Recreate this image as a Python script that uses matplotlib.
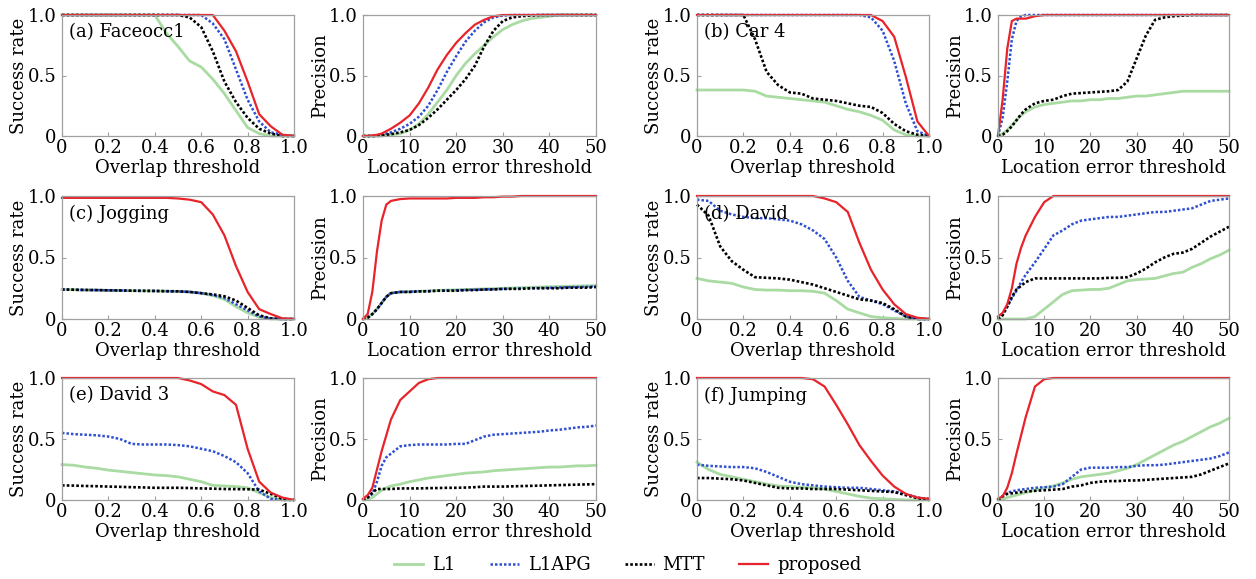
import matplotlib
matplotlib.use("Agg")
import matplotlib.pyplot as plt

plt.rcParams["font.family"] = ["DejaVu Serif"]

# shared threshold grids
overlap_x = [0, 0.05, 0.1, 0.15, 0.2, 0.25, 0.3, 0.35, 0.4, 0.45, 0.5,
             0.55, 0.6, 0.65, 0.7, 0.75, 0.8, 0.85, 0.9, 0.95, 1.0]
error_x = [0, 1, 2, 3, 4, 5, 6, 8, 10, 12, 14, 16, 18, 20, 22, 24, 26, 28,
           30, 32, 34, 36, 38, 40, 42, 44, 46, 48, 50]

methods = ["L1", "L1APG", "MTT", "proposed"]

# (a) Faceocc1
faceocc_succ_l1 = [1, 1, 1, 1, 1, 1, 1, 1, 1, 0.85, 0.74, 0.62, 0.57, 0.47, 0.35, 0.21, 0.07, 0.02, 0, 0, 0]
faceocc_succ_apg = [1, 1, 1, 1, 1, 1, 1, 1, 1, 1, 1, 1, 1, 0.93, 0.8, 0.55, 0.3, 0.12, 0.03, 0.01, 0]
faceocc_succ_mtt = [1, 1, 1, 1, 1, 1, 1, 1, 1, 1, 1, 0.98, 0.9, 0.7, 0.45, 0.28, 0.15, 0.06, 0.02, 0, 0]
faceocc_succ_prop = [1, 1, 1, 1, 1, 1, 1, 1, 1, 1, 1, 1, 1, 1, 0.87, 0.7, 0.45, 0.18, 0.08, 0.01, 0]
faceocc_prec_l1 = [0, 0, 0, 0, 0, 0.005, 0.01, 0.02, 0.05, 0.1, 0.18, 0.28, 0.38, 0.5, 0.6, 0.68, 0.75,
                   0.82, 0.88, 0.92, 0.95, 0.97, 0.98, 0.99, 1, 1, 1, 1, 1]
faceocc_prec_apg = [0, 0, 0, 0.005, 0.01, 0.02, 0.03, 0.06, 0.1, 0.16, 0.25, 0.38, 0.53, 0.66, 0.78, 0.87,
                    0.94, 0.98, 0.995, 1, 1, 1, 1, 1, 1, 1, 1, 1, 1]
faceocc_prec_mtt = [0, 0, 0, 0, 0.005, 0.01, 0.015, 0.03, 0.05, 0.09, 0.15, 0.22, 0.3, 0.38, 0.47, 0.58,
                    0.74, 0.87, 0.95, 0.98, 0.99, 0.995, 1, 1, 1, 1, 1, 1, 1]
faceocc_prec_prop = [0, 0, 0.005, 0.01, 0.02, 0.04, 0.06, 0.11, 0.17, 0.27, 0.4, 0.55, 0.67, 0.77, 0.85,
                     0.92, 0.96, 0.99, 1, 1, 1, 1, 1, 1, 1, 1, 1, 1, 1]

# (b) Car 4
car4_succ_l1 = [0.38, 0.38, 0.38, 0.38, 0.38, 0.37, 0.33, 0.32, 0.31, 0.3, 0.29, 0.28, 0.25, 0.22, 0.2,
                0.17, 0.13, 0.05, 0.01, 0, 0]
car4_succ_apg = [1, 1, 1, 1, 1, 1, 1, 1, 1, 1, 1, 1, 1, 1, 1, 0.98, 0.87, 0.62, 0.27, 0.04, 0]
car4_succ_mtt = [1, 1, 1, 1, 1, 0.8, 0.53, 0.42, 0.36, 0.35, 0.31, 0.3, 0.29, 0.27, 0.25, 0.24, 0.19,
                 0.1, 0.04, 0.01, 0]
car4_succ_prop = [1, 1, 1, 1, 1, 1, 1, 1, 1, 1, 1, 1, 1, 1, 1, 1, 0.95, 0.82, 0.49, 0.12, 0]
car4_prec_l1 = [0, 0.02, 0.05, 0.09, 0.13, 0.17, 0.2, 0.24, 0.26, 0.27, 0.28, 0.29, 0.29, 0.3, 0.3, 0.31,
                0.31, 0.32, 0.33, 0.33, 0.34, 0.35, 0.36, 0.37, 0.37, 0.37, 0.37, 0.37, 0.37]
car4_prec_apg = [0, 0.15, 0.45, 0.8, 0.95, 0.99, 1, 1, 1, 1, 1, 1, 1, 1, 1, 1, 1, 1, 1, 1, 1, 1, 1, 1,
                 1, 1, 1, 1, 1]
car4_prec_mtt = [0, 0.01, 0.04, 0.08, 0.13, 0.18, 0.22, 0.27, 0.29, 0.3, 0.33, 0.35, 0.355, 0.36, 0.365,
                 0.37, 0.38, 0.45, 0.64, 0.83, 0.96, 0.98, 0.99, 0.995, 1, 1, 1, 1, 1]
car4_prec_prop = [0, 0.3, 0.72, 0.95, 0.97, 0.97, 0.97, 0.99, 1, 1, 1, 1, 1, 1, 1, 1, 1, 1, 1, 1, 1, 1,
                  1, 1, 1, 1, 1, 1, 1]

# (c) Jogging
jog_succ_l1 = [0.24, 0.238, 0.236, 0.235, 0.233, 0.232, 0.23, 0.229, 0.228, 0.226, 0.224, 0.22, 0.21,
               0.19, 0.16, 0.1, 0.05, 0.015, 0, 0, 0]
jog_succ_apg = [0.24, 0.238, 0.236, 0.235, 0.233, 0.232, 0.23, 0.229, 0.228, 0.226, 0.224, 0.22, 0.21,
                0.195, 0.17, 0.12, 0.07, 0.02, 0.003, 0, 0]
jog_succ_mtt = [0.24, 0.238, 0.236, 0.235, 0.233, 0.232, 0.23, 0.229, 0.228, 0.226, 0.225, 0.22, 0.21,
                0.2, 0.185, 0.15, 0.09, 0.03, 0.005, 0, 0]
jog_succ_prop = [0.985, 0.985, 0.985, 0.985, 0.985, 0.985, 0.985, 0.985, 0.985, 0.985, 0.98, 0.97, 0.95,
                 0.85, 0.68, 0.43, 0.22, 0.08, 0.04, 0.005, 0]
jog_prec_l1 = [0, 0.01, 0.04, 0.08, 0.13, 0.18, 0.21, 0.22, 0.22, 0.225, 0.228, 0.232, 0.235, 0.237,
               0.24, 0.242, 0.245, 0.247, 0.25, 0.252, 0.255, 0.257, 0.26, 0.262, 0.264, 0.266, 0.268, 0.27, 0.272]
jog_prec_apg = [0, 0.01, 0.04, 0.08, 0.13, 0.18, 0.21, 0.22, 0.222, 0.225, 0.227, 0.23, 0.232, 0.234,
                0.236, 0.238, 0.24, 0.242, 0.244, 0.246, 0.248, 0.25, 0.252, 0.254, 0.256, 0.258, 0.26, 0.262, 0.265]
jog_prec_mtt = [0, 0.01, 0.04, 0.08, 0.13, 0.18, 0.21, 0.22, 0.22, 0.225, 0.225, 0.23, 0.23, 0.23, 0.235,
                0.235, 0.24, 0.24, 0.245, 0.245, 0.245, 0.25, 0.25, 0.25, 0.25, 0.255, 0.255, 0.255, 0.26]
jog_prec_prop = [0, 0.04, 0.22, 0.55, 0.8, 0.93, 0.96, 0.975, 0.98, 0.98, 0.98, 0.98, 0.98, 0.985, 0.985,
                 0.985, 0.99, 0.99, 0.995, 0.995, 1, 1, 1, 1, 1, 1, 1, 1, 1]

# (d) David
david_succ_l1 = [0.33, 0.31, 0.3, 0.29, 0.26, 0.24, 0.235, 0.235, 0.23, 0.23, 0.225, 0.21, 0.15, 0.08,
                 0.05, 0.02, 0.01, 0.005, 0, 0, 0]
david_succ_apg = [0.97, 0.96, 0.88, 0.85, 0.83, 0.82, 0.82, 0.81, 0.8, 0.77, 0.72, 0.65, 0.5, 0.31, 0.18,
                  0.15, 0.12, 0.07, 0.02, 0, 0]
david_succ_mtt = [0.93, 0.84, 0.59, 0.47, 0.4, 0.34, 0.335, 0.33, 0.32, 0.3, 0.28, 0.25, 0.22, 0.19, 0.16,
                  0.15, 0.13, 0.08, 0.02, 0, 0]
david_succ_prop = [1, 1, 1, 1, 1, 1, 1, 1, 1, 1, 1, 0.98, 0.95, 0.87, 0.62, 0.4, 0.24, 0.12, 0.04, 0.01, 0]
david_prec_l1 = [0, 0, 0, 0, 0, 0, 0, 0.02, 0.08, 0.14, 0.2, 0.23, 0.235, 0.24, 0.24, 0.25, 0.28, 0.31,
                 0.32, 0.325, 0.33, 0.35, 0.37, 0.38, 0.42, 0.45, 0.49, 0.52, 0.56]
david_prec_apg = [0, 0.04, 0.1, 0.17, 0.23, 0.3, 0.36, 0.46, 0.57, 0.68, 0.72, 0.77, 0.8, 0.81, 0.82,
                  0.83, 0.83, 0.84, 0.85, 0.86, 0.87, 0.87, 0.88, 0.89, 0.9, 0.93, 0.96, 0.97, 0.98]
david_prec_mtt = [0, 0.03, 0.1, 0.18, 0.24, 0.27, 0.3, 0.33, 0.33, 0.33, 0.33, 0.33, 0.33, 0.33, 0.33,
                  0.335, 0.335, 0.34, 0.37, 0.41, 0.46, 0.5, 0.53, 0.54, 0.57, 0.62, 0.67, 0.71, 0.75]
david_prec_prop = [0.02, 0.05, 0.12, 0.25, 0.45, 0.58, 0.68, 0.83, 0.95, 1, 1, 1, 1, 1, 1, 1, 1, 1, 1, 1,
                   1, 1, 1, 1, 1, 1, 1, 1, 1]

# (e) David 3
david3_succ_l1 = [0.29, 0.285, 0.27, 0.26, 0.245, 0.235, 0.225, 0.215, 0.205, 0.2, 0.19, 0.17, 0.15, 0.12,
                  0.115, 0.11, 0.1, 0.06, 0.02, 0, 0]
david3_succ_apg = [0.55, 0.54, 0.535, 0.53, 0.52, 0.5, 0.46, 0.455, 0.455, 0.455, 0.45, 0.44, 0.42, 0.4,
                   0.36, 0.31, 0.22, 0.07, 0.01, 0, 0]
david3_succ_mtt = [0.12, 0.118, 0.115, 0.113, 0.11, 0.108, 0.105, 0.103, 0.1, 0.1, 0.1, 0.098, 0.095,
                   0.093, 0.09, 0.089, 0.088, 0.085, 0.05, 0.01, 0]
david3_succ_prop = [1, 1, 1, 1, 1, 1, 1, 1, 1, 1, 1, 0.98, 0.95, 0.89, 0.86, 0.78, 0.42, 0.15, 0.06, 0.02, 0]
david3_prec_l1 = [0, 0.005, 0.02, 0.05, 0.08, 0.1, 0.115, 0.13, 0.15, 0.165, 0.18, 0.19, 0.2, 0.21, 0.22,
                  0.225, 0.23, 0.24, 0.245, 0.25, 0.255, 0.26, 0.265, 0.27, 0.27, 0.275, 0.28, 0.28, 0.285]
david3_prec_apg = [0, 0.02, 0.05, 0.15, 0.28, 0.35, 0.38, 0.44, 0.45, 0.455, 0.455, 0.455, 0.455, 0.46,
                   0.46, 0.49, 0.52, 0.535, 0.54, 0.545, 0.55, 0.555, 0.56, 0.57, 0.575, 0.585, 0.595, 0.6, 0.61]
david3_prec_mtt = [0, 0.02, 0.06, 0.09, 0.09, 0.09, 0.09, 0.095, 0.095, 0.095, 0.097, 0.098, 0.1, 0.1,
                   0.102, 0.105, 0.11, 0.11, 0.11, 0.112, 0.114, 0.116, 0.118, 0.12, 0.122, 0.124, 0.126, 0.128, 0.13]
david3_prec_prop = [0.01, 0.04, 0.1, 0.25, 0.4, 0.53, 0.66, 0.82, 0.89, 0.96, 0.99, 1, 1, 1, 1, 1, 1, 1,
                    1, 1, 1, 1, 1, 1, 1, 1, 1, 1, 1]

# (f) Jumping
jump_succ_l1 = [0.31, 0.25, 0.21, 0.19, 0.17, 0.15, 0.13, 0.115, 0.11, 0.105, 0.1, 0.09, 0.07, 0.05, 0.03,
                0.015, 0.01, 0.005, 0, 0, 0]
jump_succ_apg = [0.29, 0.28, 0.275, 0.27, 0.27, 0.26, 0.23, 0.19, 0.15, 0.13, 0.12, 0.11, 0.105, 0.1, 0.1,
                 0.09, 0.08, 0.07, 0.05, 0.02, 0.01]
jump_succ_mtt = [0.18, 0.18, 0.175, 0.17, 0.16, 0.14, 0.12, 0.1, 0.095, 0.095, 0.09, 0.09, 0.09, 0.085,
                 0.08, 0.075, 0.07, 0.065, 0.04, 0.015, 0]
jump_succ_prop = [1, 1, 1, 1, 1, 1, 1, 1, 1, 1, 0.99, 0.93, 0.78, 0.62, 0.45, 0.32, 0.2, 0.11, 0.05, 0.02, 0.01]
jump_prec_l1 = [0, 0.005, 0.02, 0.03, 0.04, 0.05, 0.06, 0.08, 0.1, 0.115, 0.14, 0.17, 0.19, 0.2, 0.21,
                0.22, 0.24, 0.26, 0.29, 0.33, 0.37, 0.41, 0.45, 0.48, 0.52, 0.56, 0.6, 0.63, 0.67]
jump_prec_apg = [0, 0.03, 0.06, 0.07, 0.08, 0.085, 0.09, 0.1, 0.105, 0.11, 0.13, 0.19, 0.25, 0.265, 0.265,
                 0.265, 0.27, 0.27, 0.28, 0.285, 0.285, 0.29, 0.3, 0.31, 0.32, 0.33, 0.34, 0.36, 0.39]
jump_prec_mtt = [0, 0.03, 0.05, 0.055, 0.06, 0.065, 0.07, 0.075, 0.08, 0.085, 0.09, 0.11, 0.12, 0.14, 0.15,
                 0.155, 0.155, 0.16, 0.16, 0.165, 0.17, 0.175, 0.18, 0.185, 0.19, 0.21, 0.24, 0.27, 0.3]
jump_prec_prop = [0.01, 0.03, 0.1, 0.22, 0.38, 0.53, 0.68, 0.93, 0.99, 1, 1, 1, 1, 1, 1, 1, 1, 1, 1, 1,
                  1, 1, 1, 1, 1, 1, 1, 1, 1]

titles = ["(a) Faceocc1", "(b) Car 4", "(c) Jogging", "(d) David", "(e) David 3", "(f) Jumping"]

succ_sets = [
    [faceocc_succ_l1, faceocc_succ_apg, faceocc_succ_mtt, faceocc_succ_prop],
    [car4_succ_l1, car4_succ_apg, car4_succ_mtt, car4_succ_prop],
    [jog_succ_l1, jog_succ_apg, jog_succ_mtt, jog_succ_prop],
    [david_succ_l1, david_succ_apg, david_succ_mtt, david_succ_prop],
    [david3_succ_l1, david3_succ_apg, david3_succ_mtt, david3_succ_prop],
    [jump_succ_l1, jump_succ_apg, jump_succ_mtt, jump_succ_prop],
]
prec_sets = [
    [faceocc_prec_l1, faceocc_prec_apg, faceocc_prec_mtt, faceocc_prec_prop],
    [car4_prec_l1, car4_prec_apg, car4_prec_mtt, car4_prec_prop],
    [jog_prec_l1, jog_prec_apg, jog_prec_mtt, jog_prec_prop],
    [david_prec_l1, david_prec_apg, david_prec_mtt, david_prec_prop],
    [david3_prec_l1, david3_prec_apg, david3_prec_mtt, david3_prec_prop],
    [jump_prec_l1, jump_prec_apg, jump_prec_mtt, jump_prec_prop],
]

styles = [
    dict(color="#a9dba3", lw=2.0, ls="-"),
    dict(color="#2f4fd1", lw=1.8, ls=(0, (1, 0.8))),
    dict(color="black", lw=1.9, ls=(0, (1, 0.8))),
    dict(color="#e8232a", lw=1.6, ls="-"),
]

W, H = 1256, 579
fig = plt.figure(figsize=(W / 100, H / 100), dpi=100)

col_px = [(62, 294), (363, 596), (697, 929), (998, 1229)]
row_px = [(15, 136), (196, 319), (378, 500)]
FS = 13


def make_ax(col, row):
    x0, x1 = col_px[col]
    y0, y1 = row_px[row]
    ax = fig.add_axes([x0 / W, 1 - y1 / H, (x1 - x0) / W, (y1 - y0) / H])
    for s in ax.spines.values():
        s.set_color("#a0a0a0")
        s.set_linewidth(0.9)
    ax.tick_params(direction="in", length=3, color="#a0a0a0", labelsize=FS)
    ax.tick_params(axis="x", pad=2.5)
    ax.tick_params(axis="y", pad=4)
    ax.set_ylim(0, 1)
    ax.set_yticks([0, 0.5, 1.0])
    ax.set_yticklabels(["0", "0.5", "1.0"])
    return ax


lines = []
for i in range(6):
    row = i // 2
    col = (i % 2) * 2
    ax = make_ax(col, row)
    for ys, st in zip(succ_sets[i], styles):
        (ln,) = ax.plot(overlap_x, ys, clip_on=False, **st)
        if i == 0:
            lines.append(ln)
    ax.set_xlim(0, 1)
    ax.set_xticks([0, 0.2, 0.4, 0.6, 0.8, 1.0])
    ax.set_xticklabels(["0", "0.2", "0.4", "0.6", "0.8", "1.0"])
    ax.set_xlabel("Overlap threshold", fontsize=FS, labelpad=1)
    ax.set_ylabel("Success rate", fontsize=FS, labelpad=0)
    ax.text(0.03, 0.93, titles[i], transform=ax.transAxes, fontsize=FS, va="top", ha="left")

    ax2 = make_ax(col + 1, row)
    for ys, st in zip(prec_sets[i], styles):
        ax2.plot(error_x, ys, clip_on=False, **st)
    ax2.set_xlim(0, 50)
    ax2.set_xticks([0, 10, 20, 30, 40, 50])
    ax2.set_xlabel("Location error threshold", fontsize=FS, labelpad=1)
    ax2.set_ylabel("Precision", fontsize=FS, labelpad=0)

fig.legend(lines, methods, loc="center", bbox_to_anchor=(0.5, 1 - 565 / H), ncol=4,
           frameon=False, fontsize=FS, handlelength=1.6, columnspacing=1.9, handletextpad=0.5)

fig.savefig("out.png", dpi=100)
